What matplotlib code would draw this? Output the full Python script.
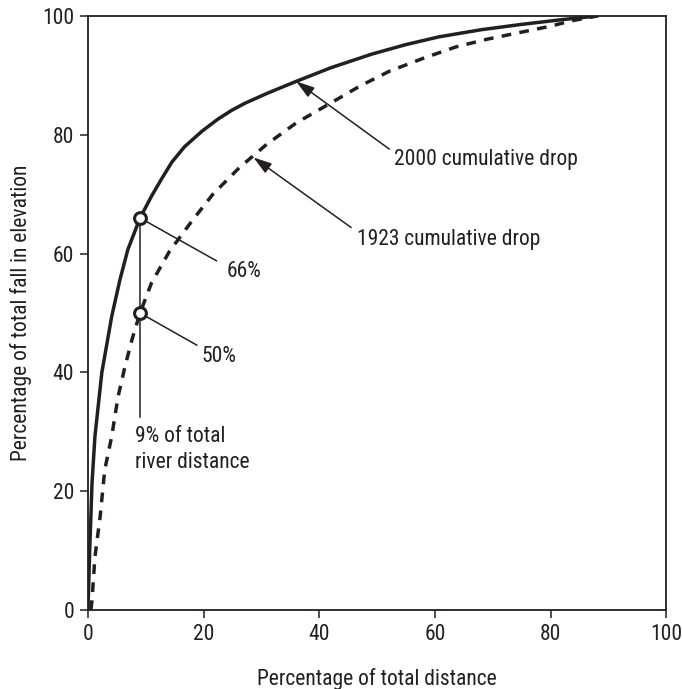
import glob
import matplotlib
matplotlib.use('Agg')
import matplotlib.pyplot as plt
from matplotlib import font_manager as fm

# condensed sans, falls back to DejaVu condensed
fam = ['DejaVu Sans']
for pat in ['RobotoCondensed-Regular.ttf', 'BarlowCondensed-Regular.ttf']:
    hits = glob.glob('/usr/share/fonts/**/' + pat, recursive=True)
    if hits:
        fm.fontManager.addfont(hits[0])
        fam = [fm.FontProperties(fname=hits[0]).get_name(), 'DejaVu Sans']
        break
plt.rcParams['font.family'] = fam
plt.rcParams['font.stretch'] = 'condensed'

# cumulative drop curves
x_2000 = [0, 0.3, 0.7, 1.2, 2.4, 4.1, 5.5, 6.9, 9.0, 11.0, 12.8, 14.5, 16.7, 19.7,
          22.4, 24.8, 27.1, 31.0, 36.0, 42.0, 49.1, 55.0, 60.7, 68.0, 75.0, 82.0, 88.0]
y_2000 = [0, 10.1, 21.4, 29.2, 40.0, 49.4, 55.5, 60.7, 66.0, 69.7, 72.7, 75.4, 78.0, 80.6,
          82.6, 84.1, 85.3, 87.0, 89.0, 91.3, 93.6, 95.2, 96.5, 97.7, 98.6, 99.4, 100.0]

x_1923 = [0.5, 0.7, 1.2, 2.1, 2.9, 4.1, 5.2, 6.4, 7.6, 9.0, 11.0, 14.1, 17.9, 21.6,
          26.2, 30.9, 36.0, 41.7, 47.0, 52.1, 58.0, 63.6, 69.0, 75.0, 80.0, 83.6, 88.0]
y_1923 = [0, 1.7, 8.9, 15.7, 23.6, 29.2, 35.9, 41.0, 45.5, 50.0, 55.1, 60.4, 65.4, 70.0,
          74.5, 78.4, 82.0, 85.2, 88.2, 90.7, 92.9, 94.8, 96.1, 97.3, 98.3, 99.2, 100.0]

x_ticks = [0, 20, 40, 60, 80, 100]
y_ticks = [0, 20, 40, 60, 80, 100]

mark_x = 9
mark_y = [66, 50]

ink = '#231f20'
fs = 15.5

fig = plt.figure(figsize=(6.82, 6.89), dpi=100)
ax = fig.add_axes([0.129, 0.1147, 0.848, 0.862])

ax.plot(x_2000, y_2000, color=ink, lw=2.5, solid_joinstyle='round')
ax.plot(x_1923, y_1923, color=ink, lw=2.5, dashes=(2.8, 2.4))

# 9% vertical line and circles
ax.plot([mark_x, mark_x], [mark_y[0], 32.5], color=ink, lw=1.1)
ax.plot([mark_x] * 2, mark_y, 'o', ms=8.5, mfc='white', mec=ink, mew=2.2, ls='none', zorder=5)

# leader lines and labels
ax.plot([mark_x, 22.2], [66, 58.8], color=ink, lw=1.1, zorder=4)
ax.text(24, 57.0, '66%', fontsize=fs, va='center', ha='left', color=ink)
ax.plot([mark_x, 18.8], [50, 44.6], color=ink, lw=1.1, zorder=4)
ax.text(19.7, 42.6, '50%', fontsize=fs, va='center', ha='left', color=ink)
ax.text(8.1, 31.0, '9% of total\nriver distance', fontsize=fs, va='top', ha='left',
        color=ink, linespacing=1.3)

arr = dict(arrowstyle='-|>,head_length=0.7,head_width=0.22', color=ink, lw=1.1,
           mutation_scale=16, shrinkA=0, shrinkB=0)
ax.annotate('', xy=(36.0, 89.0), xytext=(52.1, 77.6), arrowprops=arr)
ax.text(52.9, 75.8, '2000 cumulative drop', fontsize=fs, va='center', ha='left', color=ink)
ax.annotate('', xy=(28.6, 76.2), xytext=(45.5, 64.4), arrowprops=arr)
ax.text(46.6, 62.3, '1923 cumulative drop', fontsize=fs, va='center', ha='left', color=ink)

ax.set_xlim(0, 100)
ax.set_ylim(0, 100)
ax.set_xticks(x_ticks)
ax.set_yticks(y_ticks)
ax.tick_params(direction='out', length=6, width=1.1, labelsize=fs, colors=ink, pad=4)
for s in ax.spines.values():
    s.set_linewidth(1.3)
    s.set_color(ink)

ax.set_xlabel('Percentage of total distance', fontsize=fs, labelpad=17, color=ink)
ax.set_ylabel('Percentage of total fall in elevation', fontsize=fs, labelpad=7, color=ink)

fig.savefig('out.png', dpi=100)
